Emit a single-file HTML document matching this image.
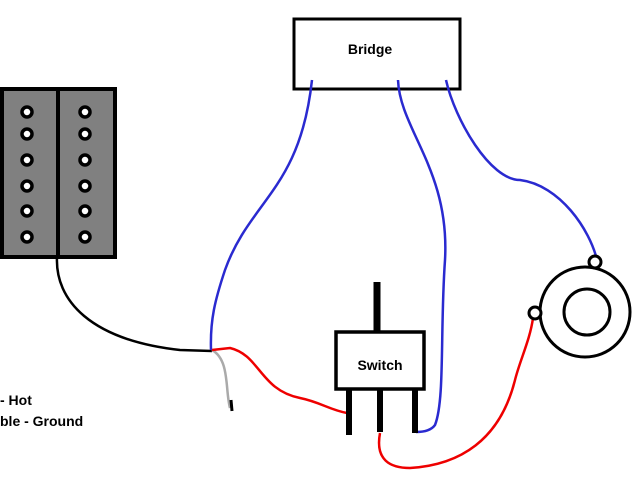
<!DOCTYPE html>
<html><head><style>
body{margin:0;background:#fff;width:640px;height:480px;overflow:hidden}
svg{display:block}
text{font-family:"Liberation Sans",Arial,sans-serif;font-weight:bold;font-size:14px;fill:#000}
</style></head><body>
<svg width="640" height="480" viewBox="0 0 640 480">
<rect x="2" y="89" width="113" height="168" fill="#808080" stroke="#000" stroke-width="4"/>
<line x1="58" y1="89" x2="58" y2="257" stroke="#000" stroke-width="4"/>
<g fill="#fff" stroke="#000" stroke-width="3.5">
<circle cx="27" cy="112" r="5"/><circle cx="27" cy="134" r="5"/><circle cx="27" cy="160" r="5"/><circle cx="27" cy="186" r="5"/><circle cx="27" cy="211" r="5"/><circle cx="27" cy="237" r="5"/>
<circle cx="85" cy="112" r="5"/><circle cx="85" cy="134" r="5"/><circle cx="85" cy="160" r="5"/><circle cx="85" cy="186" r="5"/><circle cx="85" cy="211" r="5"/><circle cx="85" cy="237" r="5"/>
</g>
<rect x="294" y="19" width="166" height="70" fill="#fff" stroke="#000" stroke-width="3"/>
<text x="370" y="54" text-anchor="middle">Bridge</text>
<path d="M57 257 C55 300 90 340 180 350 L212 351" fill="none" stroke="#000" stroke-width="2.5"/>
<path d="M212 350 C230 360 225 390 230 408" fill="none" stroke="#aaa" stroke-width="2.5"/>
<line x1="231" y1="400" x2="232" y2="411" stroke="#000" stroke-width="3"/>
<g fill="none" stroke="#2a2ad0" stroke-width="2.5">
<path d="M312 80 C300 190 250 200 225 270 C215 300 210 320 211 350"/>
<path d="M398 80 C400 130 450 170 445 260 C440 330 445 400 435 425 C430 432 420 432 416 432"/>
<path d="M446 80 C455 120 490 180 520 180 C560 185 590 230 597 260"/>
</g>
<g fill="none" stroke="#e00" stroke-width="2.5">
<path d="M212 350 L230 348 C260 355 260 390 300 398 C320 402 330 410 347 413"/>
<path d="M380 433 C375 460 390 468 410 468 C460 465 500 440 515 380 C520 360 530 340 533 318"/>
</g>
<line x1="377" y1="282" x2="377" y2="332" stroke="#000" stroke-width="7"/>
<rect x="336" y="332" width="88" height="57" fill="#fff" stroke="#000" stroke-width="3.5"/>
<text x="380" y="370" text-anchor="middle">Switch</text>
<g stroke="#000" stroke-width="6">
<line x1="349" y1="389" x2="349" y2="435"/><line x1="380" y1="389" x2="380" y2="432"/><line x1="415" y1="389" x2="415" y2="433"/>
</g>
<g fill="none" stroke="#000" stroke-width="3">
<circle cx="585" cy="312" r="45"/><circle cx="587" cy="312" r="23"/>
<circle cx="595" cy="262" r="6" fill="#fff"/><circle cx="535" cy="313" r="6" fill="#fff"/>
</g>
<text x="0" y="405">- Hot</text>
<text x="0" y="426">ble - Ground</text>
</svg>
</body></html>
